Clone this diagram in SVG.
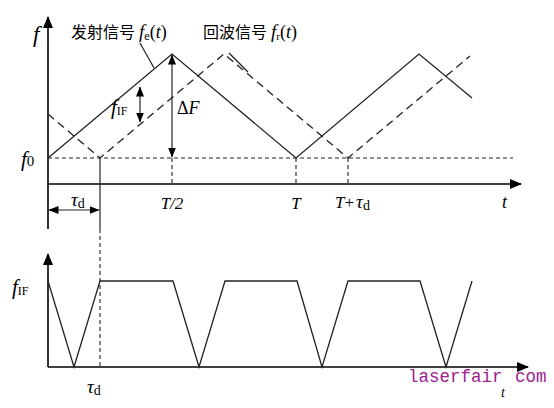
<svg xmlns="http://www.w3.org/2000/svg" width="554" height="408" viewBox="0 0 554 408">
<style>
.ax{stroke:#000;stroke-width:1.6;fill:none}
.sig{stroke:#222;stroke-width:1.3;fill:none}
.echo{stroke:#222;stroke-width:1.3;fill:none;stroke-dasharray:8 5}
.dsh{stroke:#222;stroke-width:1.1;fill:none;stroke-dasharray:4 3}
.ln{stroke:#222;stroke-width:1.2;fill:none}
.it{font-family:"Liberation Serif",serif;font-style:italic;fill:#000}
.rm{font-family:"Liberation Serif",serif;fill:#000}
.cn{font-family:"Liberation Serif","Noto Sans CJK SC",serif;fill:#000;font-size:16px}
.wm{font-family:"Liberation Mono",monospace;fill:#a0208f;font-size:17.5px}
</style>
<defs>
<marker id="ah" viewBox="0 0 12 10" refX="11" refY="5" markerWidth="12" markerHeight="10" markerUnits="userSpaceOnUse" orient="auto-start-reverse">
<path d="M0,0 L12,5 L0,10 Z" fill="#000"/>
</marker>
<marker id="sa" viewBox="0 0 10 8" refX="9.5" refY="4" markerWidth="10" markerHeight="8" markerUnits="userSpaceOnUse" orient="auto-start-reverse">
<path d="M0,0 L10,4 L0,8 Z" fill="#000"/>
</marker>
</defs>

<g id="axes-top">
<line class="ax" x1="48" y1="229" x2="48" y2="17" marker-end="url(#ah)"/>
<line class="ax" x1="48" y1="184" x2="521" y2="184" marker-end="url(#ah)"/>
</g>
<g id="axes-bottom">
<line class="ax" x1="48" y1="367" x2="48" y2="254" marker-end="url(#ah)"/>
<line class="ax" x1="48" y1="367" x2="528" y2="367" marker-end="url(#ah)"/>
</g>

<g id="connectors">
<line class="dsh" x1="48" y1="158" x2="513" y2="158"/>
<line class="dsh" x1="172" y1="158" x2="172" y2="184"/>
<line class="dsh" x1="296" y1="158" x2="296" y2="184"/>
<line class="dsh" x1="348" y1="158" x2="348" y2="184"/>
<line class="ln" x1="100" y1="158" x2="100" y2="229"/>
<line class="dsh" x1="100" y1="229" x2="100" y2="367"/>
<line class="ln" x1="49" y1="210" x2="99" y2="210" marker-start="url(#sa)" marker-end="url(#sa)"/>
<line class="ln" x1="172" y1="55" x2="172" y2="157" marker-start="url(#sa)" marker-end="url(#sa)" stroke-width="1.5"/>
<line class="ln" x1="140" y1="87" x2="140" y2="122" marker-start="url(#sa)" marker-end="url(#sa)" stroke-width="1.5"/>
<line class="ln" x1="140" y1="43" x2="154" y2="68"/>
<line class="ln" x1="229" y1="53" x2="248" y2="72"/>
</g>

<g id="transmit">
<polyline class="sig" points="48,158 172,54 296,158 419,54 472,98"/>
</g>
<g id="echo">
<polyline class="echo" points="48,114 100,158 224,54 348,158 470,56"/>
</g>
<g id="if-signal">
<polyline class="sig" points="48,281 74,367 100,281 173,281 199,367 225,281 297,281 322,367 348,281 420,281 446,367 472,281"/>
</g>

<g id="labels">
<text class="it" x="33" y="42" font-size="23">f</text>
<text x="21" y="166"><tspan class="it" font-size="21">f</tspan><tspan class="rm" font-size="15">0</tspan></text>
<text x="71" y="206"><tspan class="it" font-size="19">τ</tspan><tspan class="rm" font-size="14" dy="2">d</tspan></text>
<text class="it" x="172" y="209" font-size="17" text-anchor="middle">T/2</text>
<text class="it" x="296" y="209" font-size="17" text-anchor="middle">T</text>
<text x="335" y="208"><tspan class="it" font-size="17">T</tspan><tspan class="rm" font-size="17">+</tspan><tspan class="it" font-size="19" dx="2">τ</tspan><tspan class="rm" font-size="14" dy="2">d</tspan></text>
<text class="it" x="502" y="208" font-size="18">t</text>
<text x="177" y="114"><tspan class="rm" font-size="18">Δ</tspan><tspan class="it" font-size="18">F</tspan></text>
<text x="111" y="114"><tspan class="it" font-size="21">f</tspan><tspan class="rm" font-size="12" dy="1">IF</tspan></text>
<text x="12" y="294"><tspan class="it" font-size="21">f</tspan><tspan class="rm" font-size="12" dy="1">IF</tspan></text>
<text x="87" y="393"><tspan class="it" font-size="19">τ</tspan><tspan class="rm" font-size="14" dy="2">d</tspan></text>
<text class="cn" x="71" y="38">发射信号 <tspan class="it" font-size="19">f</tspan><tspan class="rm" font-size="12" dy="2">e</tspan><tspan class="rm" font-size="18" dy="-2">(</tspan><tspan class="it" font-size="18">t</tspan><tspan class="rm" font-size="18">)</tspan></text>
<text class="cn" x="203" y="38">回波信号 <tspan class="it" font-size="19">f</tspan><tspan class="rm" font-size="11" dy="2">r</tspan><tspan class="rm" font-size="18" dy="-2">(</tspan><tspan class="it" font-size="18">t</tspan><tspan class="rm" font-size="18">)</tspan></text>
<text class="wm" x="408" y="382">laserfair</text>
<text class="wm" x="515" y="382">com</text>
<text class="it" x="501" y="397" font-size="14" fill="#1a3a6a">t</text>
</g>
</svg>
